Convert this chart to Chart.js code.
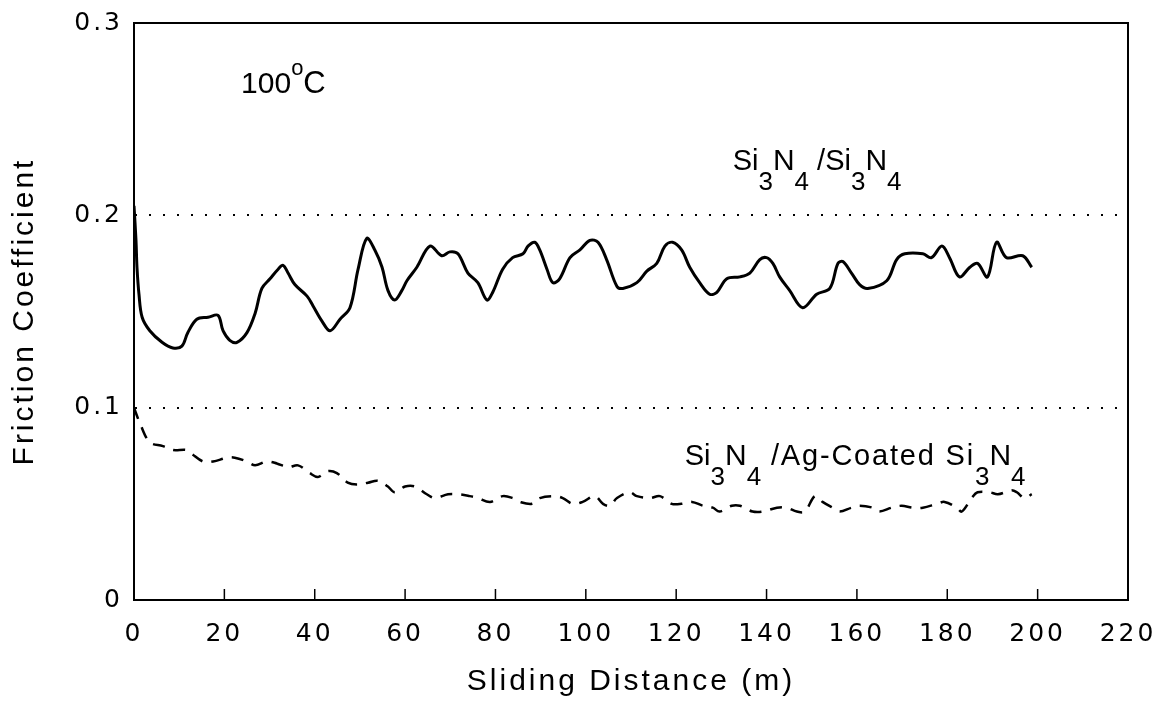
<!DOCTYPE html>
<html>
<head>
<meta charset="utf-8">
<script src="https://cdn.jsdelivr.net/npm/chart.js@4.4.0/dist/chart.umd.min.js"></script>
<style>
html,body{margin:0;padding:0;background:#fff;}
#wrap{width:1160px;height:709px;position:relative;}
</style>
</head>
<body>
<div id="wrap"><canvas id="c" width="1160" height="709"></canvas></div>
<script>
// ---- data ----
const xTickValues = [0, 20, 40, 60, 80, 100, 120, 140, 160, 180, 200, 220];
const yTickValues = [0, 0.1, 0.2, 0.3];
const yTickLabels = ['0', '0.1', '0.2', '0.3'];
const xAxisTitle = 'Sliding Distance (m)';
const yAxisTitle = 'Friction Coefficient';
const seriesNames = ['Si3N4/Si3N4', 'Si3N4/Ag-Coated Si3N4'];

// Si3N4/Si3N4 (solid)
const solidDistance = [0, 0.44, 0.66, 1.1, 1.8, 3.5, 6.2, 8.6, 10.6, 11.9, 13.9, 16.4, 18.6, 19.7, 21.2, 22.8, 25.0, 26.8, 28.3, 30.1, 31.9, 33.0, 34.1, 35.6, 38.3, 39.6, 41.6, 43.4, 45.6, 47.8, 49.6, 51.5, 53.3, 54.9, 56.2, 57.7, 59.3, 60.4, 62.6, 65.5, 68.1, 69.9, 71.7, 73.9, 76.1, 78.1, 79.4, 81.6, 83.8, 86.1, 87.2, 88.7, 89.8, 91.4, 92.7, 94.2, 96.5, 98.7, 100.9, 102.7, 104.6, 106.9, 108.2, 111.3, 113.5, 115.7, 117.5, 119.2, 121.2, 123.0, 125.2, 127.4, 129.0, 131.2, 134.1, 136.3, 138.5, 140.0, 141.4, 142.9, 145.1, 148.0, 151.1, 154.0, 155.8, 156.9, 158.8, 160.6, 162.4, 166.6, 168.8, 170.6, 174.6, 176.5, 178.8, 180.5, 182.7, 185.0, 186.7, 188.9, 190.9, 193.1, 196.7, 198.7];
const solidFriction = [0.205, 0.187, 0.173, 0.159, 0.147, 0.140, 0.134, 0.131, 0.132, 0.139, 0.146, 0.147, 0.148, 0.140, 0.135, 0.134, 0.139, 0.149, 0.162, 0.167, 0.172, 0.174, 0.170, 0.164, 0.158, 0.153, 0.145, 0.140, 0.146, 0.152, 0.172, 0.188, 0.182, 0.173, 0.161, 0.156, 0.161, 0.166, 0.173, 0.184, 0.179, 0.181, 0.180, 0.170, 0.165, 0.156, 0.160, 0.172, 0.178, 0.180, 0.184, 0.186, 0.182, 0.172, 0.165, 0.167, 0.178, 0.182, 0.187, 0.186, 0.177, 0.163, 0.162, 0.165, 0.171, 0.175, 0.184, 0.186, 0.182, 0.173, 0.165, 0.159, 0.160, 0.167, 0.168, 0.170, 0.177, 0.178, 0.175, 0.168, 0.161, 0.152, 0.159, 0.162, 0.175, 0.176, 0.170, 0.164, 0.162, 0.166, 0.177, 0.180, 0.180, 0.178, 0.184, 0.178, 0.168, 0.173, 0.175, 0.168, 0.186, 0.178, 0.179, 0.173];

// Si3N4/Ag-Coated Si3N4 (dashed)
const dashedDistance = [0, 1.3, 3.5, 6.4, 8.6, 11.7, 12.8, 15.3, 17.5, 20.6, 22.3, 25.0, 26.8, 29.4, 31.6, 34.1, 36.3, 38.9, 40.7, 42.9, 44.9, 47.3, 49.3, 51.8, 54.0, 56.2, 57.7, 60.0, 62.2, 64.8, 66.6, 69.5, 71.7, 74.3, 76.1, 78.8, 81.6, 83.8, 85.4, 88.1, 89.8, 93.1, 94.9, 97.1, 99.3, 102.0, 103.8, 105.3, 106.9, 109.7, 111.3, 114.2, 116.4, 119.0, 121.2, 123.5, 125.9, 128.1, 129.6, 132.3, 134.1, 136.9, 139.2, 142.3, 144.5, 146.7, 148.5, 150.7, 152.4, 154.6, 156.2, 158.8, 160.6, 163.5, 165.0, 167.7, 169.9, 172.3, 174.6, 177.7, 179.4, 182.1, 183.2, 185.4, 186.7, 189.4, 191.2, 194.2, 195.4, 197.1, 198.7];
const dashedFriction = [0.100, 0.092, 0.082, 0.080, 0.078, 0.078, 0.076, 0.072, 0.072, 0.074, 0.074, 0.072, 0.070, 0.072, 0.071, 0.069, 0.070, 0.066, 0.064, 0.067, 0.066, 0.061, 0.060, 0.061, 0.062, 0.059, 0.056, 0.059, 0.059, 0.055, 0.053, 0.055, 0.055, 0.054, 0.053, 0.051, 0.054, 0.053, 0.051, 0.050, 0.053, 0.054, 0.053, 0.050, 0.051, 0.054, 0.050, 0.049, 0.053, 0.056, 0.054, 0.053, 0.054, 0.050, 0.050, 0.051, 0.049, 0.048, 0.046, 0.049, 0.049, 0.046, 0.046, 0.048, 0.048, 0.046, 0.046, 0.054, 0.051, 0.048, 0.046, 0.048, 0.049, 0.048, 0.046, 0.048, 0.049, 0.048, 0.048, 0.050, 0.051, 0.048, 0.046, 0.053, 0.056, 0.056, 0.055, 0.057, 0.056, 0.053, 0.055];

// ---- build datasets ----
const toPoints = (xs, ys) => xs.map((x, i) => ({x: x, y: ys[i]}));

const TITLE_FONT = "'Liberation Sans', Arial, Helvetica, sans-serif";
const TICK_FONT = "'DejaVu Sans', 'Liberation Sans', sans-serif";

// text annotations (anchor in data units, drawn through the scales)
const annotations = [
  {x: 23.7, y: 0.2635, parts: [{t: '100', size: 30}, {t: 'o', size: 22, dy: -18}, {t: 'C', size: 31}]},
  {x: 132.5, y: 0.2236, parts: [{t: 'Si', size: 29}, {t: '3', size: 26, dy: 20}, {t: 'N', size: 30}, {t: '4', size: 26, dy: 20}, {t: ' /Si', size: 29}, {t: '3', size: 26, dy: 20}, {t: 'N', size: 30}, {t: '4', size: 26, dy: 20}]},
  {x: 121.9, y: 0.0702, parts: [{t: 'Si', size: 29}, {t: '3', size: 26, dy: 20}, {t: 'N', size: 30}, {t: '4', size: 26, dy: 20}, {t: ' /Ag-Coated Si', size: 29, ls: 1.8}, {t: '3', size: 26, dy: 20}, {t: 'N', size: 30}, {t: '4', size: 26, dy: 20}]}
];

const framePlugin = {
  id: 'frame',
  beforeDraw(chart) {
    chart.ctx.letterSpacing = '3px';
  },
  afterDatasetsDraw(chart) {
    const {ctx, chartArea: a, scales: {x}} = chart;
    ctx.save();
    ctx.letterSpacing = '0px';
    ctx.strokeStyle = '#000';
    ctx.lineWidth = 2;
    ctx.strokeRect(a.left, a.top, a.right - a.left, a.bottom - a.top);
    // inward tick marks on the x axis
    ctx.lineWidth = 1.5;
    xTickValues.forEach(v => {
      if (v === xTickValues[0] || v === xTickValues[xTickValues.length - 1]) return;
      const px = x.getPixelForValue(v);
      ctx.beginPath();
      ctx.moveTo(px, a.bottom);
      ctx.lineTo(px, a.bottom - 11);
      ctx.stroke();
    });
    ctx.restore();
  },
  afterDraw(chart) {
    const {ctx, scales: {x, y}} = chart;
    ctx.save();
    ctx.fillStyle = '#000';
    ctx.textBaseline = 'alphabetic';
    ctx.textAlign = 'left';
    annotations.forEach(an => {
      let px = x.getPixelForValue(an.x);
      const py = y.getPixelForValue(an.y);
      an.parts.forEach(p => {
        ctx.font = p.size + 'px ' + TITLE_FONT;
        ctx.letterSpacing = (p.ls || 0) + 'px';
        ctx.fillText(p.t, px, py + (p.dy || 0));
        px += ctx.measureText(p.t).width;
      });
    });
    ctx.restore();
  }
};

new Chart(document.getElementById('c'), {
  type: 'line',
  data: {
    datasets: [
      {
        label: seriesNames[0],
        data: toPoints(solidDistance, solidFriction),
        borderColor: '#000',
        borderWidth: 3,
        pointRadius: 0,
        tension: 0.35,
        fill: false
      },
      {
        label: seriesNames[1],
        data: toPoints(dashedDistance, dashedFriction),
        borderColor: '#000',
        borderWidth: 2.5,
        borderDash: [12, 9],
        pointRadius: 0,
        tension: 0.35,
        fill: false
      }
    ]
  },
  options: {
    responsive: false,
    animation: false,
    devicePixelRatio: 1,
    layout: {padding: {left: 0, top: 23, right: 32, bottom: 0}},
    plugins: {legend: {display: false}, tooltip: {enabled: false}, title: {display: false}},
    scales: {
      x: {
        type: 'linear',
        min: xTickValues[0],
        max: xTickValues[xTickValues.length - 1],
        afterBuildTicks(scale) { scale.ticks = xTickValues.map(v => ({value: v})); },
        ticks: {
          color: '#000',
          padding: 19,
          maxRotation: 0,
          autoSkip: false,
          font: {family: TICK_FONT, size: 25},
          callback: v => String(v)
        },
        grid: {display: false, drawTicks: false},
        border: {display: true, color: '#000', width: 2},
        title: {
          display: true,
          text: xAxisTitle,
          color: '#000',
          font: {family: TITLE_FONT, size: 30},
          padding: {top: 0, bottom: 9}
        },
        afterFit(scale) {
          scale.height = 109;
          scale.paddingLeft = 0;
          scale.paddingRight = 0;
        }
      },
      y: {
        type: 'linear',
        min: yTickValues[0],
        max: yTickValues[yTickValues.length - 1],
        afterBuildTicks(scale) { scale.ticks = yTickValues.map(v => ({value: v})); },
        ticks: {
          color: '#000',
          padding: 11,
          autoSkip: false,
          font: {family: TICK_FONT, size: 25},
          callback: function(v) {
            const i = yTickValues.findIndex(t => Math.abs(t - v) < 1e-9);
            return i >= 0 ? yTickLabels[i] : '';
          }
        },
        grid: {
          display: true,
          drawTicks: false,
          lineWidth: 2,
          color: c => {
            const v = c.tick ? c.tick.value : null;
            return (v !== null && v > 0.05 && v < 0.25) ? '#000' : 'rgba(0,0,0,0)';
          }
        },
        border: {display: true, color: '#000', width: 2, dash: [2, 12]},
        title: {
          display: true,
          text: yAxisTitle,
          color: '#000',
          font: {family: TITLE_FONT, size: 30},
          padding: {top: 7, bottom: 0}
        },
        afterFit(scale) {
          scale.width = 134;
          scale.paddingTop = 0;
          scale.paddingBottom = 0;
        }
      }
    }
  },
  plugins: [framePlugin]
});
</script>
</body>
</html>
